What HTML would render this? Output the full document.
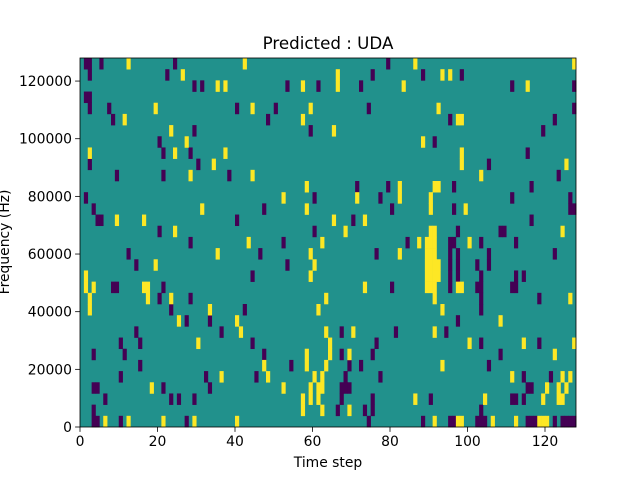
<!DOCTYPE html>
<html><head><meta charset="utf-8"><style>
body{margin:0;background:#fff;}
svg text{font-family:"DejaVu Sans","Liberation Sans",sans-serif;fill:#000;}
</style></head><body>
<svg id="chart" width="640" height="480" xmlns="http://www.w3.org/2000/svg">
<rect width="640" height="480" fill="#fff"/>
<text x="328" y="49" font-size="16.7" text-anchor="middle">Predicted : UDA</text>
<g id="cells"></g>
<rect x="80" y="58" width="496" height="369" fill="none" stroke="#000" stroke-width="0.8"/>
<g id="axes"></g>
<text x="328" y="467" font-size="13.9" text-anchor="middle">Time step</text>
<text transform="translate(9,242) rotate(-90)" font-size="13.9" text-anchor="middle">Frequency (Hz)</text>
</svg>
<script>
// Data: 33 frequency bins (row 0 = top / highest frequency), 128 time steps
const nRows = 33;
const nCols = 128;
const xTicks = [0,20,40,60,80,100,120];
const yTicks = [0,20000,40000,60000,80000,100000,120000];
const yMax = 128000;
// low-valued (purple) cells per row: column indices
const lowCells = [
[1,2,5,24,79],[2,22,75,88,98],[29,31,53,61,72,111,127],[1,2],[2,7,40,50,74,127],
[8,48,95,122],[29,59,119],[20,91],[21,28,115],[2,30,105],
[9,21,38,123],[71,79,96,116],[1,60,77,111,126],[3,47,80,96,126,127],[4,5,40,70,116],
[20,60,97,108,109],[28,52,84,95,96,103,112],[12,46,76,95,97,105,122],[14,53,95,97,102,105],[44,95,97,103,112,114],
[8,9,21,80,95,102,103,111,112],[20,28,103,118],[23,42,103],[27,33,97],[14,36,67,81,94],
[10,15,44,76,103,118],[3,11,47,67,75,108],[15,54,69,72,105],[10,32,45,68,77,114,121],[3,4,21,33,67,68,69,115,116],
[6,23,25,29,67,75,90,111,112,114],[3,66,73,75,103],[3,4,10,27,74,88,95,96,102,103,104,115,116,117,122,124,125,126,127]
];
// high-valued (yellow) cells per row: column indices
const highCells = [
[12,42,86,127],[26,66,93,95],[35,37,57,66,83,115],[],[19,44,59,92],
[11,57,97,98],[23,65],[27,88],[2,24,37,98],[34,98,125],
[28,44,103],[58,82,91,92],[52,71,82,90],[31,58,90,99],[9,16,65,73],
[24,68,90,91,124],[43,62,87,89,90,91,100],[35,59,82,89,90,91],[19,60,89,90,91,92],[1,59,89,90,91,92],
[1,3,16,17,73,89,90,91,97,98],[2,17,23,63,91,126],[2,33,61,93],[25,40,108],[41,63,70,91],
[30,64,100,114,127],[58,64,69,122],[47,58,63,93],[36,48,60,62,111,124,126],[18,52,59,61,62,120,123,125],
[57,59,61,86,104,119,123,124],[57,62,69],[6,12,21,29,40,91,97,98,106,112,118,119,120]
];
const PX0=80, PX1=576, PY0=58, PY1=427;
const xScale = c => PX0 + (c/nCols)*(PX1-PX0);
const rowScale = r => PY0 + (r/nRows)*(PY1-PY0);
const yScale = v => PY1 - (v/yMax)*(PY1-PY0);
const NS="http://www.w3.org/2000/svg";
const cells=document.getElementById('cells');
const bg=document.createElementNS(NS,'rect');
bg.setAttribute('x',PX0);bg.setAttribute('y',PY0);bg.setAttribute('width',PX1-PX0);bg.setAttribute('height',PY1-PY0);bg.setAttribute('fill','#21918c');


cells.appendChild(bg);
function addCell(r,c,color,kind){
  const el=document.createElementNS(NS,'rect');
  const x0=xScale(c), x1=xScale(c+1), y0=rowScale(r), y1=rowScale(r+1);
  el.setAttribute('x',x0);el.setAttribute('y',y0);
  el.setAttribute('width',x1-x0+0.3);el.setAttribute('height',y1-y0+0.3);
  el.setAttribute('fill',color);
  
  
  cells.appendChild(el);
}
lowCells.forEach((row,r)=>row.forEach(c=>addCell(r,c,'#440154','heatmap-cell-low')));
highCells.forEach((row,r)=>row.forEach(c=>addCell(r,c,'#fde725','heatmap-cell-high')));
const axes=document.getElementById('axes');
xTicks.forEach(t=>{
  const x=xScale(t);
  const l=document.createElementNS(NS,'line');
  l.setAttribute('x1',x);l.setAttribute('x2',x);l.setAttribute('y1',PY1);l.setAttribute('y2',PY1+4.9);l.setAttribute('stroke','#000');l.setAttribute('stroke-width','0.8');
  
  
  axes.appendChild(l);
  const tx=document.createElementNS(NS,'text');
  tx.setAttribute('x',x);tx.setAttribute('y',PY1+19);tx.setAttribute('font-size','13.9');tx.setAttribute('text-anchor','middle');
  tx.textContent=t;
  
  
  axes.appendChild(tx);
});
yTicks.forEach(t=>{
  const y=yScale(t);
  const l=document.createElementNS(NS,'line');
  l.setAttribute('x1',PX0-4.9);l.setAttribute('x2',PX0);l.setAttribute('y1',y);l.setAttribute('y2',y);l.setAttribute('stroke','#000');l.setAttribute('stroke-width','0.8');
  
  
  axes.appendChild(l);
  const tx=document.createElementNS(NS,'text');
  tx.setAttribute('x',PX0-8);tx.setAttribute('y',y+5);tx.setAttribute('font-size','13.9');tx.setAttribute('text-anchor','end');
  tx.textContent=t;
  
  
  axes.appendChild(tx);
});
</script>
</body></html>
